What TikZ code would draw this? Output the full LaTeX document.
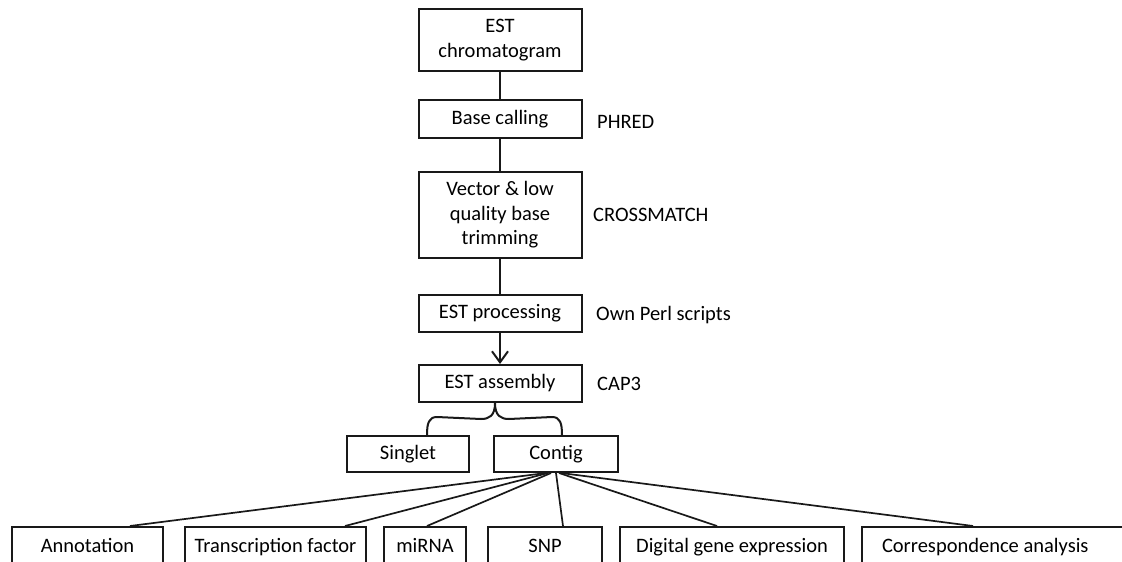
\documentclass[tikz,border=0pt]{standalone}
\usepackage{fontspec}
\setmainfont{Carlito}
\usetikzlibrary{arrows.meta}
\begin{document}
\begin{tikzpicture}[x=1pt,y=-1pt,
  every node/.style={font=\fontsize{20.5}{24.5}\selectfont, text=black},
  box/.style={draw=black!90, line width=2pt, inner sep=0pt, align=center, minimum height=37pt},
  one/.style={text height=14pt, text depth=4pt},
  lbl/.style={anchor=west, inner sep=0pt},
  conn/.style={draw=black!90, line width=2pt},
  fan/.style={draw=black!90, line width=1.7pt}]
\useasboundingbox (0,0) rectangle (1122,562);
\clip (0,0) rectangle (1122,562);
\node[box, minimum width=163pt, minimum height=62pt] (chrom) at (500,40) {EST\\chromatogram};
\node[box, one, minimum width=163pt, minimum height=38pt] (base) at (500,119) {Base calling};
\node[box, minimum width=163pt, minimum height=86pt] (vec) at (500,215) {Vector \& low\\quality base\\trimming};
\node[box, one, minimum width=163pt] (proc) at (500,313.5) {EST processing};
\node[box, one, minimum width=163pt] (asm) at (500,383.5) {EST assembly};
\node[box, one, minimum width=122pt, minimum height=36pt] (singlet) at (408,454) {Singlet};
\node[box, one, minimum width=124pt, minimum height=36pt] (contig) at (556,454) {Contig};

\node[lbl] (phred) at (597,122) {PHRED};
\node[lbl] (cross) at (593,215) {CROSSMATCH};
\node[lbl] (perl) at (596,315) {Own Perl scripts};
\node[lbl] (cap) at (597,384) {CAP3};

\node[box, one, minimum width=151pt, minimum height=40pt] (annot) at (87.5,547) {Annotation};
\node[box, one, minimum width=181pt, minimum height=40pt] (tf) at (275.5,547) {Transcription factor};
\node[box, one, minimum width=82pt, minimum height=40pt] (mirna) at (425,547) {miRNA};
\node[box, one, minimum width=114pt, minimum height=40pt] (snp) at (545,547) {SNP};
\node[box, one, minimum width=224pt, minimum height=40pt] (dge) at (732,547) {Digital gene expression};
\node[box, one, minimum height=40pt, text width=238pt, inner xsep=20pt, align=flush left] (corr) at (1001,547) {Correspondence analysis};

\draw[conn] (chrom) -- (base);
\draw[conn] (base) -- (vec);
\draw[conn] (vec) -- (proc);
\draw[conn, -{Straight Barb[length=11pt,width=16pt,line width=2pt]}] (proc) -- (asm);

% brace
\coordinate (tip) at ([xshift=-5pt]asm.south);
\coordinate (bl) at ([xshift=19pt]singlet.north);
\coordinate (br) at ([xshift=6pt]contig.north);
\draw[conn] (tip) .. controls ([yshift=-13pt]tip) and ([xshift=-6pt,yshift=-16pt]tip) .. ([xshift=-14pt,yshift=-16pt]tip)
  -- ([xshift=10pt,yshift=18pt]bl) .. controls ([xshift=2pt,yshift=18pt]bl) and ([yshift=12pt]bl) .. (bl);
\draw[conn] (tip) .. controls ([yshift=-13pt]tip) and ([xshift=6pt,yshift=-16pt]tip) .. ([xshift=14pt,yshift=-16pt]tip)
  -- ([xshift=-10pt,yshift=18pt]br) .. controls ([xshift=-2pt,yshift=18pt]br) and ([yshift=12pt]br) .. (br);

% fan
\draw[fan] ([xshift=-10pt]contig.south) -- ([xshift=42.5pt]annot.north);
\draw[fan] ([xshift=-8pt]contig.south) -- ([xshift=69.5pt]tf.north);
\draw[fan] ([xshift=-5pt]contig.south) -- ([xshift=2pt]mirna.north);
\draw[fan] ([xshift=0pt]contig.south) -- ([xshift=18pt]snp.north);
\draw[fan] ([xshift=3pt]contig.south) -- ([xshift=-15pt]dge.north);
\draw[fan] ([xshift=5pt]contig.south) -- ([xshift=-28pt]corr.north);
\end{tikzpicture}
\end{document}
